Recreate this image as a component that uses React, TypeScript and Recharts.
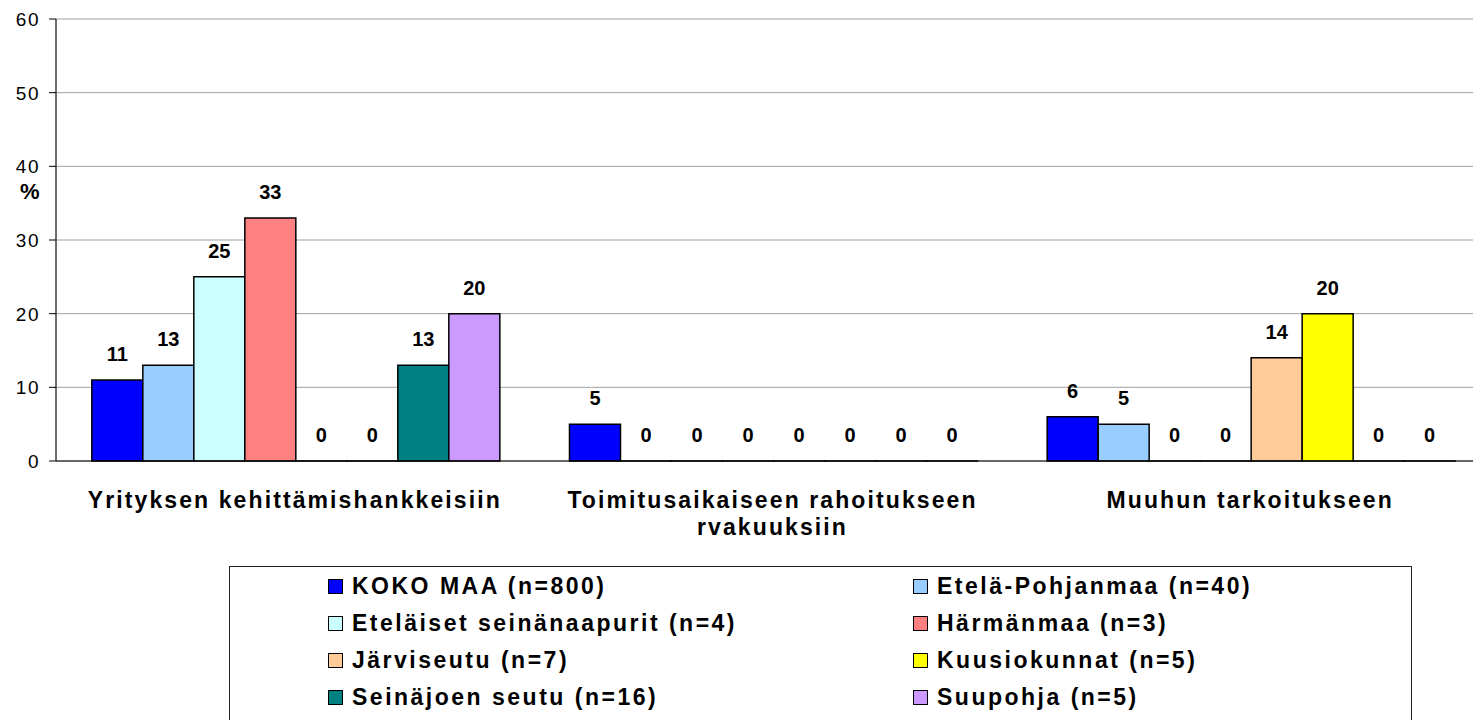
import React from "react";
import {
  BarChart,
  Bar,
  XAxis,
  YAxis,
  CartesianGrid,
  Legend,
  LabelList,
} from "recharts";

const FONT = "'Liberation Sans', Arial, sans-serif";

const categories = [
  "Yrityksen kehittämishankkeisiin",
  "Toimitusaikaiseen rahoitukseen\nrvakuuksiin",
  "Muuhun tarkoitukseen",
];

const seriesNames = [
  "KOKO MAA (n=800)",
  "Etelä-Pohjanmaa (n=40)",
  "Eteläiset seinänaapurit (n=4)",
  "Härmänmaa (n=3)",
  "Järviseutu (n=7)",
  "Kuusiokunnat (n=5)",
  "Seinäjoen seutu (n=16)",
  "Suupohja (n=5)",
];

const seriesColors = [
  "#0000FF",
  "#99CCFF",
  "#CCFFFF",
  "#FF8080",
  "#FFCC99",
  "#FFFF00",
  "#008080",
  "#CC99FF",
];

const kokoMaa = [11, 5, 6];
const etelaPohjanmaa = [13, 0, 5];
const etelaisetSeinanaapurit = [25, 0, 0];
const harmanmaa = [33, 0, 0];
const jarviseutu = [0, 0, 14];
const kuusiokunnat = [0, 0, 20];
const seinajoenSeutu = [13, 0, 0];
const suupohja = [20, 0, 0];

const seriesValues = [
  kokoMaa,
  etelaPohjanmaa,
  etelaisetSeinanaapurit,
  harmanmaa,
  jarviseutu,
  kuusiokunnat,
  seinajoenSeutu,
  suupohja,
];

const yTicks = [0, 10, 20, 30, 40, 50, 60];
const boundaryTicks = [0, 1, 2, 3];

const data = categories.map((name, i) => {
  const row: Record<string, any> = { name, idx: i + 0.5 };
  seriesNames.forEach((s, j) => {
    row["s" + j] = seriesValues[j][i];
  });
  return row;
});

const YTick = (props: any) => {
  const { x, y, payload } = props;
  return (
    <text
      x={x}
      y={y}
      dy="0.36em"
      textAnchor="end"
      fontSize={19}
      fontFamily={FONT}
      fill="#000"
      style={{ letterSpacing: "1.5px" }}
    >
      {payload.value}
    </text>
  );
};

const CatTick = (props: any) => {
  const { x, y, payload } = props;
  const lines = String(payload.value).split("\n");
  return (
    <text
      x={x}
      y={y}
      textAnchor="middle"
      fontSize={23}
      fontWeight="bold"
      fontFamily={FONT}
      fill="#000"
      style={{ letterSpacing: "2.1px" }}
    >
      {lines.map((l, i) => (
        <tspan key={i} x={x} dy={i === 0 ? 46 : 27}>
          {l}
        </tspan>
      ))}
    </text>
  );
};

const LegendContent = (props: any) => {
  const payload = [...(props.payload || [])].sort(
    (a: any, b: any) =>
      seriesNames.indexOf(a.value) - seriesNames.indexOf(b.value)
  );
  return (
    <div
      style={{
        boxSizing: "border-box",
        width: 1183,
        height: 160,
        border: "1px solid #222",
        background: "#fff",
        display: "grid",
        gridTemplateColumns: "585px 1fr",
        gridAutoRows: "37px",
        paddingLeft: 98,
        paddingTop: 1,
        fontFamily: FONT,
        fontWeight: "bold",
        fontSize: 23,
        letterSpacing: "2.5px",
        color: "#000",
      }}
    >
      {payload.map((e: any) => (
        <div
          key={e.value}
          style={{ display: "flex", alignItems: "center", whiteSpace: "nowrap" }}
        >
          <span
            style={{
              display: "inline-block",
              boxSizing: "border-box",
              width: 15,
              height: 15,
              background: e.color,
              border: "1.5px solid #000",
              marginRight: 9,
              flex: "0 0 auto",
            }}
          />
          <span>{e.value}</span>
        </div>
      ))}
    </div>
  );
};

export default function App() {
  return (
    <div
      style={{
        position: "fixed",
        left: 0,
        top: 0,
        width: 1473,
        height: 720,
        overflow: "hidden",
        background: "#fff",
      }}
    >
      <BarChart
        width={1500}
        height={760}
        data={data}
        margin={{ top: 19, right: 11, bottom: 198, left: 0 }}
        barCategoryGap="7.5%"
        barGap={0}
        style={{ fontFamily: FONT }}
      >
        <CartesianGrid
          xAxisId="bound"
          vertical={false}
          horizontal={true}
          stroke="#a0a0a0"
        />
        <CartesianGrid
          xAxisId="bound"
          vertical={true}
          horizontal={false}
          stroke="#b8b8b8"
        />
        <XAxis
          xAxisId="bound"
          dataKey="idx"
          type="number"
          domain={[0, 3]}
          ticks={boundaryTicks}
          allowDataOverflow
          tick={false}
          tickSize={9}
          height={1}
          axisLine={{ stroke: "#000" }}
          tickLine={{ stroke: "#000" }}
        />
        <XAxis
          xAxisId="cat"
          dataKey="name"
          type="category"
          axisLine={false}
          tickLine={false}
          tickSize={0}
          tickMargin={0}
          height={100}
          interval={0}
          tick={<CatTick />}
        />
        <YAxis
          domain={[0, 60]}
          ticks={yTicks}
          width={56}
          tickSize={7}
          tickMargin={9}
          axisLine={{ stroke: "#000" }}
          tickLine={{ stroke: "#000" }}
          tick={<YTick />}
          label={{
            value: "%",
            position: "insideLeft",
            offset: 20,
            dy: -49,
            fontSize: 22,
            fontWeight: "bold",
            fill: "#000",
            fontFamily: FONT,
          }}
        />
        <Legend
          layout="horizontal"
          verticalAlign="middle"
          align="center"
          content={<LegendContent />}
          wrapperStyle={{ position: "absolute", top: 566, left: 229, width: 1183, height: 160 }}
        />
        {seriesNames.map((s, j) => (
          <Bar
            key={s}
            xAxisId="cat"
            dataKey={"s" + j}
            name={s}
            fill={seriesColors[j]}
            stroke="#000"
            strokeWidth={1.5}
            minPointSize={0.01}
            isAnimationActive={false}
          >
            <LabelList
              dataKey={"s" + j}
              position="top"
              offset={19}
              fontSize={20}
              fontWeight="bold"
              fill="#000"
              fontFamily={FONT}
            />
          </Bar>
        ))}
      </BarChart>
    </div>
  );
}
